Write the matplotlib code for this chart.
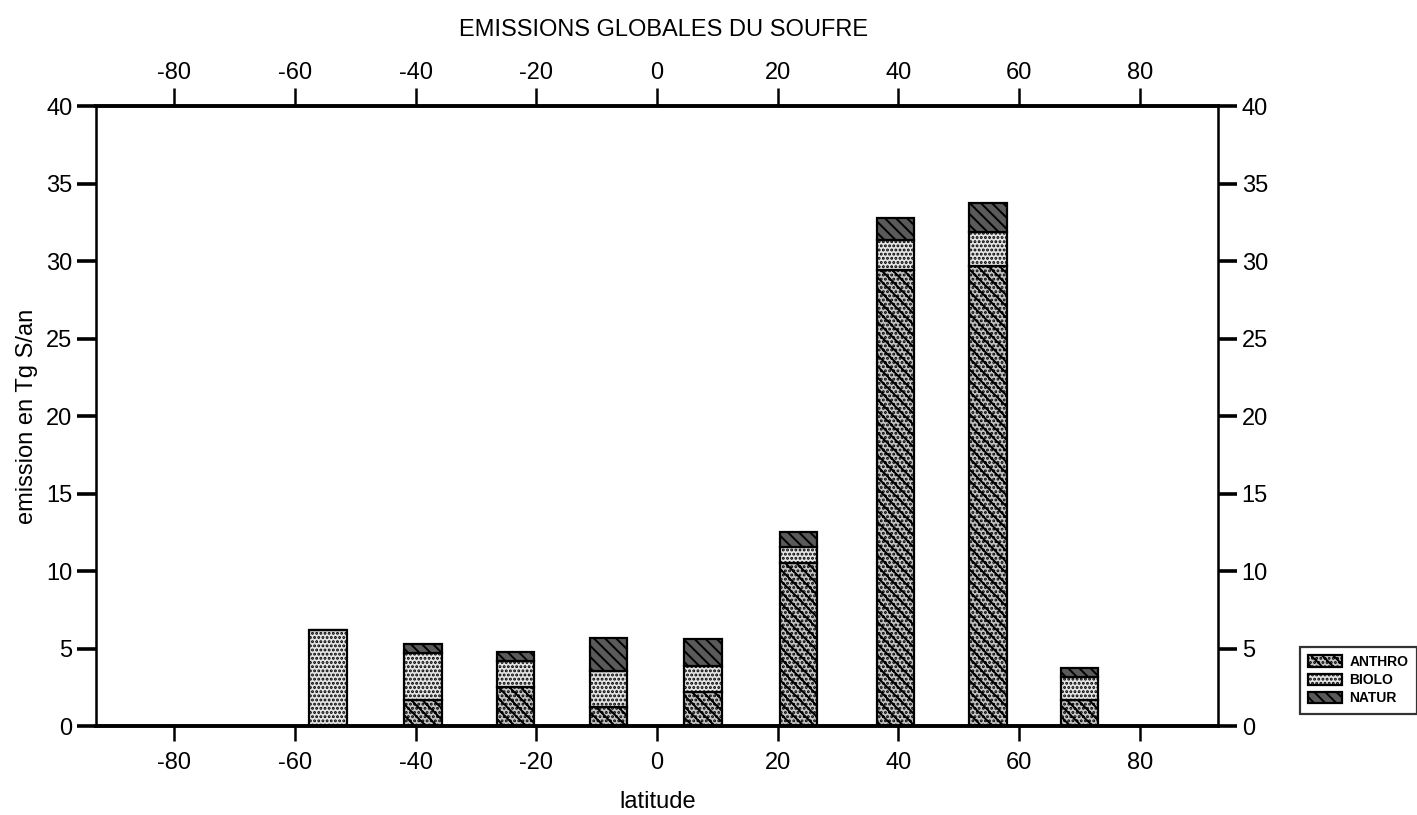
import matplotlib
matplotlib.use("Agg")
import matplotlib.pyplot as plt
import numpy as np

# latitude bands (centre of each band, degrees)
latitudes = [-54.5, -38.8, -23.5, -8.0, 7.6, 23.5, 39.5, 54.9, 70.0]
# emissions per source, Tg S/an
anthro = [0.0, 1.7, 2.5, 1.2, 2.2, 10.5, 29.4, 29.7, 1.7]
biolo = [6.2, 3.0, 1.7, 2.35, 1.7, 1.05, 1.95, 2.2, 1.45]
natur = [0.0, 0.6, 0.55, 2.15, 1.7, 0.95, 1.45, 1.85, 0.6]

xticks = [-80, -60, -40, -20, 0, 20, 40, 60, 80]
yticks = [0, 5, 10, 15, 20, 25, 30, 35, 40]

plt.rcParams['font.family'] = ['Liberation Sans', 'DejaVu Sans']
plt.rcParams['axes.unicode_minus'] = False
plt.rcParams['hatch.linewidth'] = 1.4

fs = 17
fig = plt.figure(figsize=(14.17, 8.15), dpi=100)
ax = fig.add_axes([0.0677, 0.1092, 0.7919, 0.7607])

width = 6.2
lat = np.array(latitudes)
a = np.array(anthro)
b = np.array(biolo)
n = np.array(natur)

ax.bar(lat, a, width, color='#c4c4c4', edgecolor='black', hatch='\\\\\\....', linewidth=1.6, label='ANTHRO')
ax.bar(lat, b, width, bottom=a, color='#e4e4e4', edgecolor='black', hatch='....', linewidth=1.6, label='BIOLO')
ax.bar(lat, n, width, bottom=a + b, color='#5a5a5a', edgecolor='black', hatch='\\\\\\', linewidth=1.6, label='NATUR')

ax.set_xlim(-93, 93)
ax.set_ylim(0, 40)
ax.set_xticks(xticks)
ax.set_yticks(yticks)
ax.tick_params(axis='x', direction='out', length=11, width=1.8, labelsize=fs, pad=8)
ax.tick_params(axis='y', direction='out', length=14, width=2.6, labelsize=fs, pad=3,
               labelright=True, right=True)
for side in ['left', 'right']:
    ax.spines[side].set_linewidth(1.8)
for side in ['top', 'bottom']:
    ax.spines[side].set_linewidth(2.8)

top = ax.twiny()
top.set_xlim(ax.get_xlim())
top.set_xticks(xticks)
top.tick_params(direction='out', length=13, width=1.8, labelsize=fs, pad=3)

ax.set_ylabel('emission en Tg S/an', fontsize=fs, labelpad=6)
fig.text(0.464, 0.016, 'latitude', ha='center', va='center', fontsize=fs)
fig.text(0.468, 0.963, 'EMISSIONS GLOBALES DU SOUFRE', ha='center', va='center', fontsize=fs)

leg = ax.legend(loc='center left', bbox_to_anchor=(1.073, 0.074), fontsize=10,
                frameon=True, fancybox=False, edgecolor='black', handlelength=2.4,
                handleheight=0.9, handletextpad=0.55, borderpad=0.6, labelspacing=0.3,
                borderaxespad=0)
leg.get_frame().set_linewidth(1.6)
for t in leg.get_texts():
    t.set_fontweight('bold')

fig.savefig('out.png', dpi=100)
